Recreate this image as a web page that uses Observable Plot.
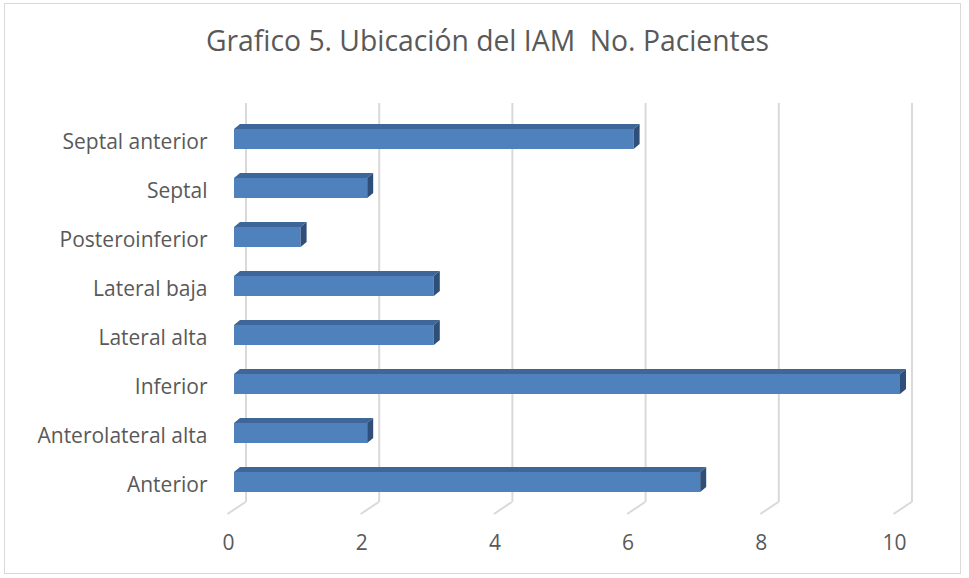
<!DOCTYPE html>
<html><head><meta charset="utf-8">
<script src="https://cdn.jsdelivr.net/npm/d3@7"></script>
<script src="https://cdn.jsdelivr.net/npm/@observablehq/plot@0.6"></script>
<style>
body{margin:0;background:#fff;}
#chart{position:relative;width:969px;height:578px;overflow:hidden;font-family:"Open Sans",sans-serif;background:#fff;}
#frame{position:absolute;left:4px;top:3px;width:957px;height:571px;border:1px solid #d9d9d9;box-sizing:border-box;}
#title{position:absolute;left:0;width:975px;top:21px;text-align:center;font-size:28.3px;color:#595959;white-space:pre;}
#plot{position:absolute;left:0;top:90px;}
</style></head><body>
<div id="chart"><div id="frame"></div><div id="title">Grafico 5. Ubicación del IAM  No. Pacientes</div><div id="plot"></div></div>
<script>
// Data (Excel order: first category at the bottom)
const categories = ["Anterior","Anterolateral alta","Inferior","Lateral alta","Lateral baja","Posteroinferior","Septal","Septal anterior"];
const pacientes = [7,2,10,3,3,1,2,6];
const xTicks = [0,2,4,6,8,10];

const data = categories.map((c,i)=>({cat:c, n:pacientes[i]}));
const FRONT = "#4f81bd", TOP = "#3e6699", SIDE = "#2f4f78", GRID = "#d9d9d9", TEXT = "#595959";
const DX = 6, DY = -5;      // bar depth
const GDX = 11.5;           // back wall offset

const plot = Plot.plot({
  width: 969, height: 488,
  marginLeft: 234, marginRight: 69, marginTop: 22, marginBottom: 69,
  style: {fontFamily: "'Open Sans', sans-serif", fontSize: "21px", color: TEXT, background: "transparent", overflow: "visible"},
  x: {domain: [0,10]},
  y: {domain: categories.slice().reverse(), paddingInner: 0.6, paddingOuter: 0.3},
  marks: [
    Plot.ruleX(xTicks, {x: d=>d, dx: GDX, insetTop: -9, insetBottom: 7, stroke: GRID, strokeWidth: 2}),
    Plot.barX(data, {x: "n", y: "cat", fill: FRONT}),
    Plot.axisX({ticks: xTicks, tickSize: 0, tickPadding: 26, dx: -6, fill: TEXT, fontSize: 21, label: null}),
    Plot.axisY({tickSize: 0, tickPadding: 27, dy: 3, fill: TEXT, fontSize: 21, label: null})
  ]
});
document.getElementById("plot").appendChild(plot);

// 3D faces and floor lines drawn with the plot's own scales
const xs = plot.scale("x"), ys = plot.scale("y");
const bw = ys.bandwidth;
const svg = d3.select(plot);
const bottom = 488 - 69 - 7;
const g = svg.append("g").attr("class","floor");
g.selectAll("path").data(xTicks).join("path")
  .attr("d", t => { const x = xs.apply(t) + GDX; return `M${x},${bottom}L${x-18},${bottom+12}`; })
  .attr("fill","none").attr("stroke",GRID).attr("stroke-width",2);
const f = svg.append("g").attr("class","faces");
data.forEach(d => {
  const x0 = xs.apply(0), x1 = xs.apply(d.n), y0 = ys.apply(d.cat), y1 = y0 + bw;
  f.append("path").attr("fill", TOP)
    .attr("d", `M${x0},${y0}L${x0+DX},${y0+DY}L${x1+DX},${y0+DY}L${x1},${y0}Z`);
  f.append("path").attr("fill", SIDE)
    .attr("d", `M${x1},${y0}L${x1+DX},${y0+DY}L${x1+DX},${y1+DY}L${x1},${y1}Z`);
});
</script>
</body></html>
